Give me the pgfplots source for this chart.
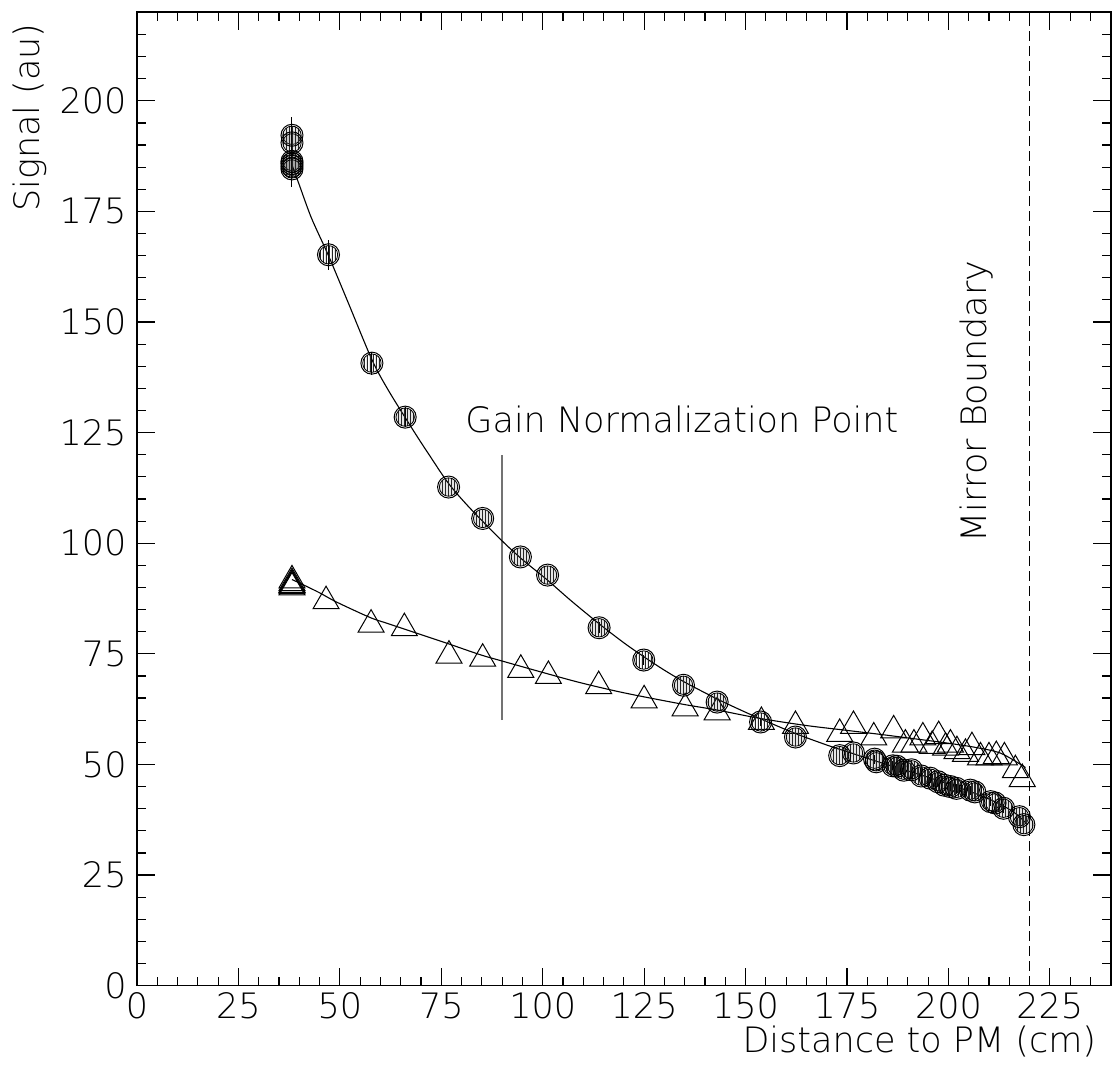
\documentclass[border=0pt]{standalone}
\usepackage{fontspec}
\setmainfont{DejaVu Sans ExtraLight}
\usepackage{pgfplots}
\usepackage{pgfplotstable}
\pgfplotsset{compat=1.18}
\usetikzlibrary{patterns}

\pgfdeclarepatternformonly{vhatch}{\pgfpointorigin}{\pgfpoint{1.7pt}{1.7pt}}{\pgfpoint{1.7pt}{1.7pt}}{%
  \pgfsetlinewidth{0.6pt}%
  \pgfpathmoveto{\pgfpoint{0.85pt}{-0.1pt}}%
  \pgfpathlineto{\pgfpoint{0.85pt}{1.8pt}}%
  \pgfusepath{stroke}}

\pgfplotstableread{
x y e
38.2 192.2 4.2
38.2 190.5 4.0
38.2 186.3 4.0
38.2 185.8 4.0
38.2 185.2 4.0
38.2 184.6 4.0
47.2 165.2 3.4
57.9 140.7 2.6
66.1 128.5 2.2
76.8 112.7 1.8
85.2 105.6 1.6
94.5 96.9 1.5
101.2 92.8 1.4
113.9 80.9 1.2
124.9 73.6 1.1
134.7 67.9 1.0
143.0 64.1 1.0
153.7 59.6 1.0
162.3 56.2 1.0
173.2 52.0 1.0
176.6 52.6 1.0
181.8 51.2 1.0
182.2 50.6 1.0
186.3 49.7 1.0
187.3 49.6 1.0
189.0 48.7 1.0
190.9 48.8 1.0
193.3 47.4 1.0
195.5 46.9 1.0
197.4 46.1 1.0
199.0 45.3 1.0
200.5 45.0 1.0
202.0 44.6 1.0
205.4 44.2 1.0
206.5 43.8 1.0
210.4 41.6 1.0
211.5 41.3 1.0
213.6 40.1 1.0
217.5 38.2 1.0
218.6 36.4 1.0
}\circles

\pgfplotstableread{
x y
38.2 91.6
38.2 91.0
38.2 90.6
38.2 90.3
38.2 90.0
46.6 86.9
57.7 81.6
65.9 80.8
76.9 74.6
85.2 73.9
94.6 71.4
101.4 70.0
113.8 67.7
125.0 64.5
135.1 62.7
143.0 61.8
153.9 59.6
162.3 58.7
173.2 56.9
176.6 58.7
181.6 56.1
186.5 57.7
189.4 54.5
191.5 54.5
193.7 56.1
196.0 54.2
197.6 56.4
199.3 53.8
200.5 54.5
202.1 53.0
204.2 52.4
205.8 53.9
207.9 51.6
210.0 51.6
211.8 51.9
213.8 51.6
216.5 48.7
218.2 46.7
}\triangles

\pgfplotstableread{
x y
38.2 185.5
40 181
43 173.5
47.2 165
52 154.5
57.9 141.5
62 134.5
68.1 125.5
72 120
76.8 113.5
82 108
89.8 100.7
95 96.3
101 91.8
107 87
113.9 81.8
120 77.5
125 74.3
130 71.3
135 68.6
143 64.8
150 61.8
154 60.2
162 57.1
170 54.4
176 52.6
182 50.8
188 49.1
194 47.4
200 45.6
205 44
210 42.2
214 40.4
217 38.6
219.4 36.5
}\circfit

\pgfplotstableread{
x y
38.2 91.8
41 90.6
45 88.8
49.2 86.7
57.5 83.2
62 81.8
69.8 79.4
77 77.2
84.6 74.8
89.9 73.4
100 70.8
109.2 68.5
120 66.2
134 63.7
143 62.3
153.6 60.4
165 58.8
175 57.7
183.2 56.8
190 56.0
200 54.8
207 53.8
213 52.5
219 49.3
}\trifit

\begin{document}
\begin{tikzpicture}
\begin{axis}[
  scale only axis,
  width=486.85pt, height=486.7pt,
  xmin=0, xmax=240, ymin=0, ymax=220,
  xtick={0,25,...,225}, ytick={0,25,...,200},
  minor xtick={0,5,...,240}, minor ytick={0,5,...,220},
  tick align=inside,
  major tick length=9pt, minor tick length=4.5pt,
  axis line style={line width=0.8pt},
  every tick/.style={black, line width=0.6pt},
  tick label style={font=\fontsize{17.5}{20}\selectfont},
  yticklabel style={xshift=-1.7pt},
  /pgf/number format/assume math mode=true,
]
% gain normalization line
\addplot[black!55, line width=0.7pt] coordinates {(90,60) (90,120)};
% mirror boundary
\addplot[black, line width=0.6pt, dash pattern=on 5pt off 2.5pt] coordinates {(220,0) (220,220)};
% triangles
\addplot[only marks, mark=triangle, mark size=7.5pt, mark options={black, line width=0.5pt}] table[x=x,y=y] {\triangles};
% circles: hatch fill
\addplot[only marks, mark=*, mark size=4.6pt, mark options={draw=none, pattern=vhatch, pattern color=black!85}] table[x=x,y=y] {\circles};
% circles: outline + error bars
\addplot[only marks, mark=o, mark size=5.5pt, mark options={black, line width=0.5pt},
  error bars/.cd, y dir=both, y explicit, error mark=none,
  error bar style={black, line width=0.5pt}] table[x=x,y=y,y error=e] {\circles};
% fits
\addplot[black, line width=0.55pt, smooth, no marks] table[x=x,y=y] {\circfit};
\addplot[black, line width=0.55pt, smooth, no marks] table[x=x,y=y] {\trifit};
\node[anchor=base, font=\fontsize{17.5}{20}\selectfont] at (axis cs:134.3,125.1) {Gain Normalization Point};
\node[anchor=base, rotate=90, font=\fontsize{17.5}{20}\selectfont] at (axis cs:209.4,132) {Mirror Boundary};
\end{axis}
\node[anchor=base east, font=\fontsize{17.5}{20}\selectfont] at ([shift={(-3.8pt,-33.65pt)}]current axis.south east) {Distance to PM (cm)};
\node[anchor=base east, rotate=90, font=\fontsize{17.5}{20}\selectfont] at ([shift={(-48.7pt,-2pt)}]current axis.north west) {Signal (au)};
\pgfresetboundingbox
\path[use as bounding box] ([shift={(-68.5pt,-44.65pt)}]current axis.south west) rectangle ([shift={(1.65pt,6.15pt)}]current axis.north east);
\end{tikzpicture}
\end{document}
